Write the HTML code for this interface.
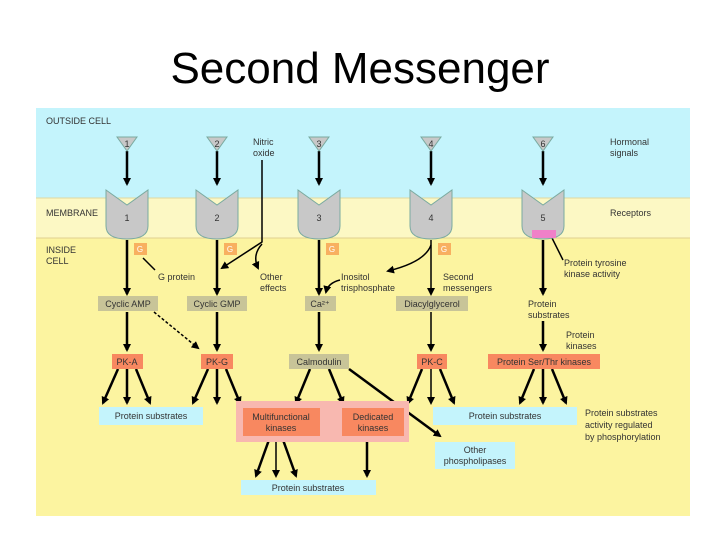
<!DOCTYPE html>
<html><head><meta charset="utf-8"><style>
body{margin:0;width:720px;height:540px;background:#fff;overflow:hidden;font-family:"Liberation Sans",sans-serif}
</style></head><body>
<svg width="720" height="540" viewBox="0 0 720 540" xmlns="http://www.w3.org/2000/svg" font-family="Liberation Sans, sans-serif">
<defs>
<marker id="ah" markerWidth="8" markerHeight="8" refX="6" refY="4" orient="auto" markerUnits="userSpaceOnUse"><path d="M0,0 L8,4 L0,8 Z" fill="#000"/></marker>
</defs>
<text x="360" y="83" font-size="44" text-anchor="middle" fill="#000">Second Messenger</text>
<rect x="36" y="108" width="654" height="90" fill="#c4f4fc"/>
<rect x="36" y="198" width="654" height="40" fill="#fcf8c4"/>
<rect x="36" y="238" width="654" height="278" fill="#fcf4a0"/>
<line x1="36" y1="198" x2="690" y2="198" stroke="#e0d8a0"/>
<line x1="36" y1="238" x2="690" y2="238" stroke="#e0d090"/>
<g font-size="9" fill="#333">
<text x="46" y="124">OUTSIDE CELL</text>
<text x="46" y="216">MEMBRANE</text>
<text x="46" y="253">INSIDE</text><text x="46" y="264">CELL</text>
<text x="610" y="145">Hormonal</text><text x="610" y="156">signals</text>
<text x="610" y="216">Receptors</text>
<text x="253" y="145">Nitric</text><text x="253" y="156">oxide</text>
<text x="158" y="280">G protein</text>
<text x="260" y="280">Other</text><text x="260" y="291">effects</text>
<text x="341" y="280">Inositol</text><text x="341" y="291">trisphosphate</text>
<text x="443" y="280">Second</text><text x="443" y="291">messengers</text>
<text x="564" y="266">Protein tyrosine</text><text x="564" y="277">kinase activity</text>
<text x="528" y="307">Protein</text><text x="528" y="318">substrates</text>
<text x="566" y="338">Protein</text><text x="566" y="349">kinases</text>
<text x="585" y="416">Protein substrates</text><text x="585" y="428">activity regulated</text><text x="585" y="440">by phosphorylation</text>
</g>
<g stroke="#000" stroke-width="2.5" fill="none" marker-end="url(#ah)">
<line x1="127" y1="151" x2="127" y2="184"/><line x1="217" y1="151" x2="217" y2="184"/><line x1="319" y1="151" x2="319" y2="184"/><line x1="431" y1="151" x2="431" y2="184"/><line x1="543" y1="151" x2="543" y2="184"/>
<line x1="127" y1="240" x2="127" y2="294"/><line x1="217" y1="240" x2="217" y2="294"/><line x1="319" y1="240" x2="319" y2="294"/><line x1="431" y1="240" x2="431" y2="294" stroke-width="1.5"/><line x1="543" y1="240" x2="543" y2="294"/>
<line x1="127" y1="312" x2="127" y2="350"/><line x1="217" y1="312" x2="217" y2="350"/><line x1="319" y1="312" x2="319" y2="350"/><line x1="431" y1="312" x2="431" y2="350" stroke-width="1.5"/><line x1="543" y1="321" x2="543" y2="350"/>
<line x1="118" y1="369" x2="103" y2="403"/><line x1="127" y1="369" x2="127" y2="403"/><line x1="136" y1="369" x2="150" y2="403"/>
<line x1="208" y1="369" x2="193" y2="403"/><line x1="217" y1="369" x2="217" y2="403"/><line x1="226" y1="369" x2="240" y2="403"/>
<line x1="310" y1="369" x2="296" y2="403"/><line x1="329" y1="369" x2="343" y2="403"/><line x1="349" y1="369" x2="440" y2="436"/>
<line x1="422" y1="369" x2="408" y2="403"/><line x1="431" y1="369" x2="431" y2="403" stroke-width="1.5"/><line x1="440" y1="369" x2="454" y2="403"/>
<line x1="534" y1="369" x2="520" y2="403"/><line x1="543" y1="369" x2="543" y2="403"/><line x1="552" y1="369" x2="566" y2="403"/>
<line x1="270" y1="437" x2="256" y2="476"/><line x1="276" y1="437" x2="276" y2="476" stroke-width="1.5"/><line x1="282" y1="437" x2="296" y2="476"/>
<line x1="367" y1="437" x2="367" y2="476"/>
</g>
<g stroke="#000" stroke-width="1.5" fill="none" marker-end="url(#ah)">
<polyline points="262,160 262,242 222,268"/>
<path d="M262,244 Q252,255 258,268"/>
<path d="M431,245 Q425,262 388,271"/>
<path d="M340,280 Q328,283 326,292"/>
<line x1="154" y1="312" x2="198" y2="348" stroke-dasharray="3,2"/>
</g>
<g stroke="#000" stroke-width="1.5"><line x1="143" y1="258" x2="155" y2="270"/><line x1="552" y1="238" x2="563" y2="260"/></g>
<g fill="#c8c8c8" stroke="#7aaaa0" stroke-width="1">
<path d="M117,137 H137 L127,151 Z"/><path d="M207,137 H227 L217,151 Z"/><path d="M309,137 H329 L319,151 Z"/><path d="M421,137 H441 L431,151 Z"/><path d="M533,137 H553 L543,151 Z"/>
<path d="M106,190 L127,205 L148,190 V226 Q148,239 127,239 Q106,239 106,226 Z"/>
<path d="M196,190 L217,205 L238,190 V226 Q238,239 217,239 Q196,239 196,226 Z"/>
<path d="M298,190 L319,205 L340,190 V226 Q340,239 319,239 Q298,239 298,226 Z"/>
<path d="M410,190 L431,205 L452,190 V226 Q452,239 431,239 Q410,239 410,226 Z"/>
<path d="M522,190 L543,205 L564,190 V226 Q564,239 543,239 Q522,239 522,226 Z"/>
</g>
<rect x="532" y="230" width="24" height="8" fill="#f080c8"/>
<g font-size="9" fill="#333" text-anchor="middle">
<text x="127" y="147">1</text><text x="217" y="147">2</text><text x="319" y="147">3</text><text x="431" y="147">4</text><text x="543" y="147">6</text>
<text x="127" y="221">1</text><text x="217" y="221">2</text><text x="319" y="221">3</text><text x="431" y="221">4</text><text x="543" y="221">5</text>
</g>
<g fill="#f8b060"><rect x="134" y="243" width="13" height="12"/><rect x="224" y="243" width="13" height="12"/><rect x="326" y="243" width="13" height="12"/><rect x="438" y="243" width="13" height="12"/></g>
<g font-size="8" fill="#fff" text-anchor="middle"><text x="140" y="252">G</text><text x="230" y="252">G</text><text x="332" y="252">G</text><text x="444" y="252">G</text></g>
<g fill="#c8c498">
<rect x="98" y="296" width="60" height="15"/><rect x="187" y="296" width="60" height="15"/><rect x="305" y="296" width="31" height="15"/><rect x="396" y="296" width="72" height="15"/><rect x="289" y="354" width="60" height="15"/>
</g>
<rect x="236" y="401" width="173" height="41" fill="#f8b8b0"/>
<g fill="#f88860">
<rect x="112" y="354" width="31" height="15"/><rect x="201" y="354" width="32" height="15"/><rect x="417" y="354" width="30" height="15"/><rect x="488" y="354" width="112" height="15"/>
<rect x="243" y="408" width="77" height="28"/><rect x="342" y="408" width="62" height="28"/>
</g>
<g fill="#c4f4fc">
<rect x="99" y="407" width="104" height="18"/><rect x="433" y="407" width="144" height="18"/><rect x="435" y="442" width="80" height="27"/><rect x="241" y="480" width="135" height="15"/>
</g>
<g font-size="9" fill="#333" text-anchor="middle">
<text x="128" y="307">Cyclic AMP</text><text x="217" y="307">Cyclic GMP</text><text x="320" y="307">Ca²⁺</text><text x="432" y="307">Diacylglycerol</text>
<text x="127" y="365">PK-A</text><text x="217" y="365">PK-G</text><text x="319" y="365">Calmodulin</text><text x="432" y="365">PK-C</text><text x="544" y="365">Protein Ser/Thr kinases</text>
<text x="151" y="419">Protein substrates</text><text x="505" y="419">Protein substrates</text>
<text x="281" y="420">Multifunctional</text><text x="281" y="431">kinases</text>
<text x="373" y="420">Dedicated</text><text x="373" y="431">kinases</text>
<text x="475" y="453">Other</text><text x="475" y="464">phospholipases</text>
<text x="308" y="491">Protein substrates</text>
</g>
</svg>
</body></html>
